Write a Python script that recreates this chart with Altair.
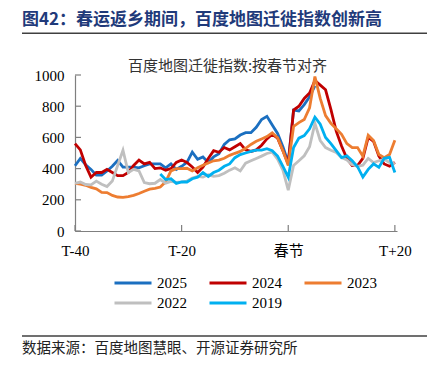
import altair as alt
import pandas as pd

# ---------------- data ----------------
days_full = list(range(-40, 21))   # T-40 ... T+20
days_2025 = list(range(-40, 6))    # T-40 ... T+5
days_2019 = list(range(-24, 21))   # T-24 ... T+20

v2025 = [418, 465, 425, 395, 358, 358, 385, 415, 452, 410,
         410, 410, 405, 418, 430, 430, 430, 405, 430, 395,
         415, 440, 505, 460, 475, 440, 475, 495, 555, 585,
         590, 615, 630, 630, 665, 715, 735, 680, 625, 540,
         440, 775, 770, 810, 860, 930]
v2024 = [560, 520, 420, 345, 375, 375, 395, 375, 355, 355,
         375, 420, 455, 430, 440, 400, 405, 390, 400, 440,
         455, 440, 410, 375, 410, 465, 515, 505, 535, 520,
         540, 560, 520, 510, 520, 550, 590, 620, 595, 515,
         430, 775, 800, 850, 885, 965, 935, 905, 780, 640,
         545, 465, 420, 420, 465, 600, 575, 480, 430, 415,
         440]
v2023 = [305, 300, 293, 280, 270, 248, 246, 228, 218, 216,
         220, 228, 240, 255, 268, 274, 282, 315, 385, 400,
         400, 402, 385, 405, 422, 436, 450, 454, 466, 485,
         498, 510, 530, 555, 575, 590, 605, 630, 598, 515,
         420, 670, 695, 715, 790, 990, 850, 740, 690, 655,
         620, 560, 535, 535, 480, 614, 580, 490, 470, 490,
         582]
v2022 = [306, 314, 298, 296, 320, 300, 285, 320, 420, 518,
         375, 395, 385, 310, 303, 306, 330, 306, 318, 312,
         315, 320, 340, 350, 345, 360, 350, 355, 370, 390,
         405, 385, 435, 450, 465, 480, 497, 505, 460, 390,
         262, 420, 450, 482, 540, 690, 580, 535, 518, 503,
         470, 455, 425, 415, 422, 465, 438, 450, 460, 440,
         430]
v2019 = [365, 330, 335, 305,
         315, 314, 335, 345, 375, 350, 375, 390, 415, 430,
         470, 490, 500, 510, 518, 518, 528, 515, 480, 415,
         345, 535, 595, 612, 655, 730, 685, 600, 560, 515,
         470, 482, 450, 412, 346, 395, 430, 408, 466, 472,
         375]

series = ["2025", "2024", "2023", "2022", "2019"]
colors = ["#1B6FC0", "#C00000", "#ED7D31", "#BFBFBF", "#00B0F0"]

x_ticks = [-40, -20, 0, 20]
x_labels = ["T-40", "T-20", "春节", "T+20"]
y_ticks = [0, 200, 400, 600, 800, 1000]

fig_title = "图42：春运返乡期间，百度地图迁徙指数创新高"
chart_title = "百度地图迁徙指数:按春节对齐"
source_text = "数据来源：百度地图慧眼、开源证券研究所"

# ---------------- build table ----------------
rows = []
for name, days, vals in [("2025", days_2025, v2025), ("2024", days_full, v2024),
                         ("2023", days_full, v2023), ("2022", days_full, v2022),
                         ("2019", days_2019, v2019)]:
    for d, v in zip(days, vals):
        rows.append({"day": d, "value": v, "year": name})
df = pd.DataFrame(rows)

W, H = 322, 156
SERIF = "Liberation Serif"
CJK = "Noto Sans CJK SC"
AXIS_COLOR = "#7F7F7F"

label_expr = " : ".join(
    [f"datum.value == {v} ? '{t}'" for v, t in zip(x_ticks, x_labels)] + ["''"]
)

x_scale = alt.Scale(domain=[-40, 20.4], nice=False, zero=False)
y_scale = alt.Scale(domain=[0, 1000], nice=False)
color_scale = alt.Scale(domain=series, range=colors)

x_axis = alt.Axis(values=x_ticks, labelExpr=label_expr, grid=False,
                  tickSize=0, labelPadding=12, labelFlush=False,
                  labelOverlap=False,
                  labelFont="Liberation Serif, Noto Sans CJK SC",
                  labelFontSize=15, labelColor="black",
                  domainColor=AXIS_COLOR, domainWidth=1.2)
y_axis = alt.Axis(values=y_ticks, format="d", grid=False, tickSize=0, labelPadding=11,
                  labelOverlap=False, labelFlush=False,
                  labelFont=SERIF, labelFontSize=15, labelColor="black",
                  domainColor=AXIS_COLOR, domainWidth=1.2)
x_enc = alt.X("day:Q", scale=x_scale, title=None, axis=x_axis)
y_enc = alt.Y("value:Q", scale=y_scale, title=None, axis=y_axis)
color_enc = alt.Color("year:N", scale=color_scale,
                      legend=alt.Legend(title=None, orient="none", legendX=38, legendY=200,
                                        direction="horizontal", clipHeight=16,
                                        columns=3, symbolType="stroke", symbolSize=1369,
                                        symbolStrokeWidth=3, labelFont=SERIF,
                                        labelFontSize=15, labelColor="black",
                                        labelOffset=4, columnPadding=21, rowPadding=4))

layers = []
for s in series:
    layers.append(
        alt.Chart(df).transform_filter(alt.datum.year == s)
        .mark_line(strokeWidth=2.8)
        .encode(x=x_enc, y=y_enc, color=color_enc)
    )

# inward tick marks (same fields/axes as the lines so the axes merge)
ytick_df = pd.DataFrame({"value": y_ticks})
xtick_df = pd.DataFrame({"day": x_ticks})
yticks = alt.Chart(ytick_df).mark_rule(color=AXIS_COLOR, strokeWidth=1.2).encode(
    y=y_enc, x=alt.value(0), x2=alt.value(6))
xticks = alt.Chart(xtick_df).mark_rule(color=AXIS_COLOR, strokeWidth=1.2).encode(
    x=x_enc, y=alt.value(H), y2=alt.value(H - 6))

# texts and separator lines
t1 = alt.Chart(pd.DataFrame({"t": [fig_title]})).mark_text(
    align="left", baseline="middle", font=CJK, fontSize=17, fontWeight="bold",
    color="#1F3A7A").encode(text="t:N", x=alt.value(-53), y=alt.value(-55))
t2 = alt.Chart(pd.DataFrame({"t": [chart_title]})).mark_text(
    align="center", baseline="middle", font=CJK, fontSize=15, color="#333333"
).encode(text="t:N", x=alt.value(152.5), y=alt.value(-9))
t3 = alt.Chart(pd.DataFrame({"t": [source_text]})).mark_text(
    align="left", baseline="middle", font=CJK, fontSize=14.5, color="#222222"
).encode(text="t:N", x=alt.value(-53), y=alt.value(274))
r1 = alt.Chart(pd.DataFrame({"a": [0]})).mark_rule(color="#404040", strokeWidth=1.5).encode(
    x=alt.value(-53), x2=alt.value(357), y=alt.value(-41.7))
r2 = alt.Chart(pd.DataFrame({"a": [0]})).mark_rule(color="#404040", strokeWidth=1.5).encode(
    x=alt.value(-53), x2=alt.value(357), y=alt.value(261))

chart = alt.layer(*layers, yticks, xticks, t1, t2, t3, r1, r2).properties(
    width=W, height=H,
    autosize=alt.AutoSizeParams(type="none"),
    padding={"left": 67, "top": 67, "right": 30, "bottom": 136},
    background="white",
).configure_view(stroke=None)

chart.save("out.html", embed_options={"renderer": "svg", "actions": False})
